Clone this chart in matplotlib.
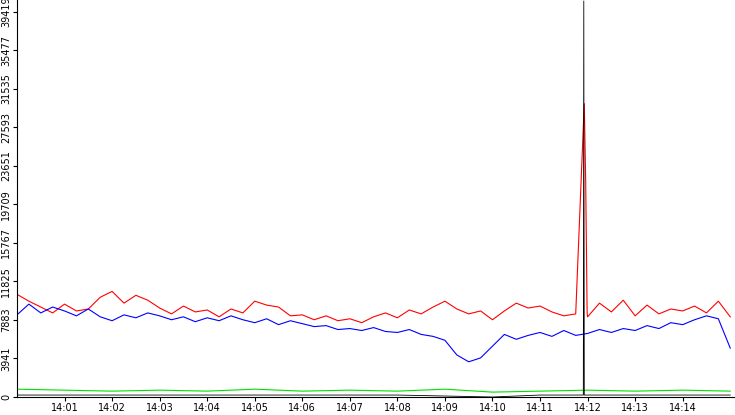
import numpy as np
import matplotlib
matplotlib.use("Agg")
import matplotlib.pyplot as plt

# minutes after 14:00, 15 s step
t = list(np.arange(0, 15.01, 0.25))
red = [10.5,9.8,9.2,8.6, 9.5,8.8,9.0,10.2, 10.8,9.6,10.4,9.9, 9.1,8.5,9.3,8.7,
       8.9,8.2,9.0,8.6, 9.8,9.4,9.2,8.3, 8.4,7.9,8.3,7.8, 8.0,7.6,8.2,8.6,
       8.1,8.9,8.5,9.2, 9.8,9.0,8.5,8.8, 7.9,8.8,9.6,9.1, 9.3,8.7,8.3,8.5,
       8.2,9.6,8.7,9.9, 8.3,9.4,8.5,9.0, 8.8,9.3,8.6,9.8, 8.2]
blue = [8.4,9.5,8.6,9.2, 8.8,8.3,9.0,8.2, 7.8,8.4,8.1,8.6, 8.3,7.9,8.2,7.7,
        8.1,7.8,8.3,7.9, 7.6,8.0,7.4,7.8, 7.5,7.2,7.3,6.9, 7.0,6.8,7.1,6.7,
        6.6,6.9,6.4,6.2, 5.8,4.3,3.6,4.0, 5.2,6.4,5.9,6.3, 6.6,6.2,6.8,6.3,
        6.5,6.9,6.6,7.0, 6.8,7.3,7.0,7.6, 7.4,7.9,8.3,8.0, 5.0]
spike_t = [11.93, 11.96, 11.99]
spike_red = [30.0, 22.0, 8.6]
tg = list(range(16))
green = [0.8,0.7,0.6,0.7,0.6,0.8,0.6,0.7,0.6,0.8,0.5,0.6,0.7,0.6,0.7,0.6]
black = [0.2,0.2,0.2,0.2,0.2,0.2,0.2,0.2,0.2,0.1,0.0,0.2,0.2,0.2,0.2,0.2]
black_spike_t = [11.91, 11.92, 11.93]
black_spike = [0.2, 40.5, 0.2]
yticks = [0,3941,7883,11825,15767,19709,23651,27593,31535,35477,39419]
xlabels = ["14:%02d" % m for m in range(1, 15)]

def merge(ta, va, tb, vb):
    pts = sorted(zip(list(ta)+list(tb), list(va)+list(vb)))
    return [p[0] for p in pts], [p[1]*1000 for p in pts]

fig = plt.figure(figsize=(7.35, 4.15), dpi=100)
ax = fig.add_axes([17/735, 18/415, 718/735, 397/415])
x, y = merge(t, red, spike_t, spike_red)
ax.plot(x, y, color="red", lw=0.8)
ax.plot(t, [v*1000 for v in blue], color="blue", lw=0.8)
ax.plot(tg, [v*1000 for v in green], color="#00e000", lw=0.8)
x, y = merge(tg, black, black_spike_t, black_spike)
ax.plot(x, y, color="black", lw=0.6)
ax.set_xlim(0, 15.1)
ax.set_ylim(0, 40600)
ax.set_xticks(range(1, 15))
ax.set_xticklabels(xlabels, fontsize=7)
ax.set_yticks(yticks)
ax.set_yticklabels([str(v) for v in yticks], fontsize=7, rotation=90, va="center")
ax.tick_params(length=3, pad=1)
for s in ["top", "right"]:
    ax.spines[s].set_visible(False)
fig.savefig("out.png", dpi=100)
